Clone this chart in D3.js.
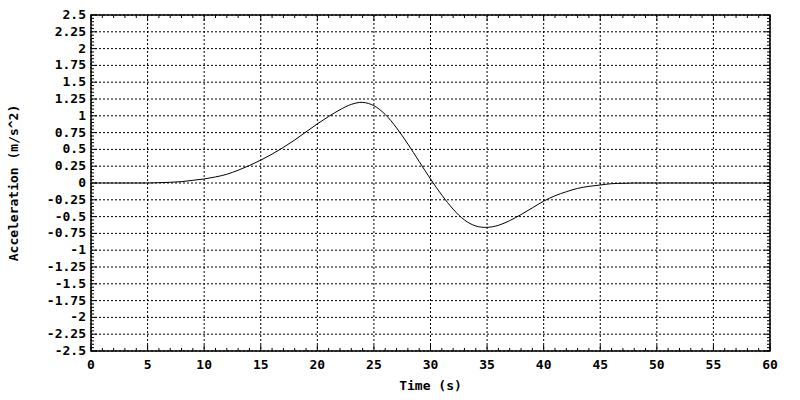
<!DOCTYPE html><html><head><meta charset="utf-8"><script src="https://d3js.org/d3.v7.min.js"></script>
<style>body{margin:0;background:#fff}text{font-family:"DejaVu Sans Mono",monospace;font-weight:bold;font-size:13px}</style></head><body><svg width="800" height="400"></svg><script>
const times=d3.range(0,61);
const accel=[0,0,0,0,0,0,0.005,0.01,0.02,0.04,0.06,0.09,0.13,0.19,0.26,0.34,0.43,0.53,0.64,0.76,0.88,0.99,1.09,1.17,1.2,1.15,1.02,0.82,0.58,0.32,0.06,-0.18,-0.39,-0.55,-0.64,-0.66,-0.63,-0.56,-0.47,-0.37,-0.27,-0.19,-0.13,-0.08,-0.05,-0.03,-0.01,-0.005,0,0,0,0,0,0,0,0,0,0,0,0,0];
const xTicks=d3.range(0,61,5), yTicks=d3.range(-2.5,2.51,0.25);
const svg=d3.select("svg");
const L=91,R=770,T=15,B=351;
const x=d3.scaleLinear().domain([0,60]).range([L,R]);
const y=d3.scaleLinear().domain([-2.5,2.5]).range([B,T]);
const g=svg.append("g");
xTicks.forEach(v=>{g.append("line").attr("x1",x(v)).attr("x2",x(v)).attr("y1",T).attr("y2",B).attr("stroke","#000").attr("stroke-dasharray","2,2");});
yTicks.forEach(v=>{g.append("line").attr("x1",L).attr("x2",R).attr("y1",y(v)).attr("y2",y(v)).attr("stroke","#000").attr("stroke-dasharray","2,2");});
d3.range(0,61,1).forEach(v=>{g.append("line").attr("x1",x(v)).attr("x2",x(v)).attr("y1",B).attr("y2",B-(v%5?3:6)).attr("stroke","#000");g.append("line").attr("x1",x(v)).attr("x2",x(v)).attr("y1",T).attr("y2",T+(v%5?3:6)).attr("stroke","#000");});
d3.range(-50,51,1).forEach(i=>{const v=i*0.05;const maj=i%5===0;g.append("line").attr("x1",L).attr("x2",L+(maj?6:3)).attr("y1",y(v)).attr("y2",y(v)).attr("stroke","#000");g.append("line").attr("x1",R).attr("x2",R-(maj?6:3)).attr("y1",y(v)).attr("y2",y(v)).attr("stroke","#000");});
g.append("rect").attr("x",L).attr("y",T).attr("width",R-L).attr("height",B-T).attr("fill","none").attr("stroke","#000").attr("stroke-width",1.5);
yTicks.forEach(v=>{g.append("text").attr("x",L-5).attr("y",y(v)+4).attr("text-anchor","end").text(String(+v.toFixed(2)));});
xTicks.forEach(v=>{g.append("text").attr("x",x(v)).attr("y",B+18).attr("text-anchor","middle").text(v);});
g.append("text").attr("x",(L+R)/2).attr("y",390).attr("text-anchor","middle").text("Time (s)");
g.append("text").attr("transform",`translate(18,${(T+B)/2}) rotate(-90)`).attr("text-anchor","middle").text("Acceleration (m/s^2)");
const line=d3.line().x((d,i)=>x(times[i])).y(d=>y(d)).curve(d3.curveCatmullRom);
g.append("path").datum(accel).attr("d",line).attr("fill","none").attr("stroke","#000").attr("stroke-width",1);
</script></body></html>
